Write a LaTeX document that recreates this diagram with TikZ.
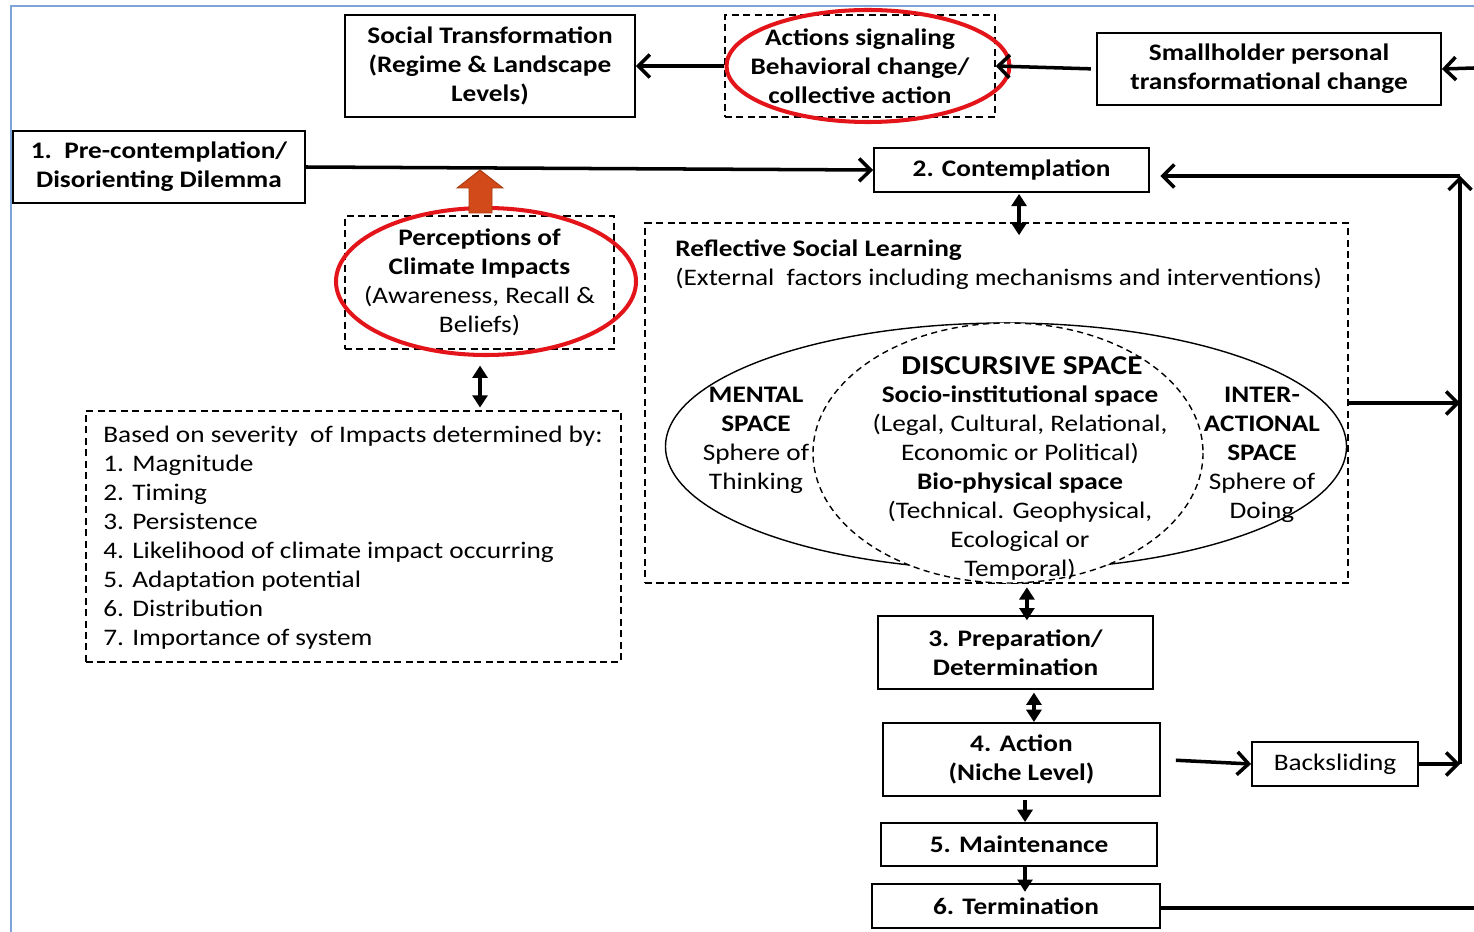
\documentclass[tikz,border=0pt]{standalone}
\usepackage{fontspec}
\setmainfont{Carlito}[FakeStretch=1.15]
\usetikzlibrary{arrows.meta,calc}
\definecolor{framecol}{HTML}{7EA3D6}
\definecolor{ringred}{HTML}{E3151B}
\definecolor{orangefill}{HTML}{D24A1A}
\definecolor{orangeedge}{HTML}{A8380F}
\newcommand\fs{\fontsize{13.5}{16.5}\selectfont}
\newcommand\fsbig{\fontsize{15.5}{18}\selectfont\bfseries}

\begin{document}
\begin{tikzpicture}[x=0.02cm,y=-0.02cm,
  every node/.style={inner sep=0pt, font=\fs, align=center},
  solidbox/.style={draw, line width=1.1pt},
  dashbox/.style={draw, line width=0.9pt, dash pattern=on 4pt off 2.5pt},
  ring/.style={draw=ringred, line width=2.3pt},
  flow/.style={line width=2pt, -{Straight Barb[length=6.5pt,width=13pt,line width=2pt]}},
  both/.style={line width=2pt, {Triangle[length=7pt,width=8.5pt]}-{Triangle[length=7pt,width=8.5pt]}},
  down/.style={line width=2pt, -{Triangle[length=7pt,width=8.5pt]}},
]
\useasboundingbox (0,0) rectangle (1474,932);

% page frame
\draw[framecol, line width=1.2pt] (1474,6) -- (11,6) -- (11,932);

% top row
\node[solidbox, minimum width=5.8cm, minimum height=2.04cm] (social) at (490,66)
  {\bfseries Social Transformation\\\bfseries (Regime \& Landscape\\\bfseries Levels)};
\node[dashbox, minimum width=5.4cm, minimum height=2.04cm] (actions) at (860,66)
  {\bfseries Actions signaling\\\bfseries Behavioral change/\\\bfseries collective action};
\draw[ring] (868,66) ellipse [x radius=141.5, y radius=56];
\node[solidbox, minimum width=6.88cm, minimum height=1.44cm] (small) at (1269,69)
  {\bfseries Smallholder personal\\\bfseries transformational change};

% stages 1 and 2
\node[solidbox, minimum width=5.84cm, minimum height=1.44cm] (pre) at (159,167)
  {\bfseries 1.\ \ Pre-contemplation/\\\bfseries Disorienting Dilemma};
\node[solidbox, minimum width=5.5cm, minimum height=0.88cm] (contemp) at (1011.5,170)
  {\bfseries 2. Contemplation};

% perceptions
\node[dashbox, minimum width=5.38cm, minimum height=2.66cm] (perc) at (479.5,282.5)
  {\bfseries Perceptions of\\\bfseries Climate Impacts\\(Awareness, Recall \&\\Beliefs)};
\draw[ring] (486,281.5) ellipse [x radius=150, y radius=73.5];

% orange block arrow
\draw[orangeedge, fill=orangefill, line width=0.5pt]
  (469,213) -- (469,188) -- (457,188) -- (480,170) -- (503,188) -- (492,188) -- (492,213) -- cycle;

% severity list
\node[dashbox, minimum width=10.7cm, minimum height=5.02cm] (list) at (353.5,536.5) {};
\node[anchor=west, align=left] (listtext) at (103,537.5)
  {Based on severity~ of Impacts determined by:\\
   1. Magnitude\\
   2. Timing\\
   3. Persistence\\
   4. Likelihood of climate impact occurring\\
   5. Adaptation potential\\
   6. Distribution\\
   7. Importance of system};

% reflective social learning
\node[dashbox, minimum width=14.06cm, minimum height=7.2cm] (reflect) at (996.5,403) {};
\node[anchor=west, align=left] (refltext) at (675,265)
  {\bfseries Reflective Social Learning\\(External~ factors including mechanisms and interventions)};
\draw[line width=0.8pt] (1006,446.5) ellipse [x radius=340.5, y radius=123.5];
\draw[line width=0.8pt, dash pattern=on 3.5pt off 2.5pt, fill=white] (1008,453) ellipse [x radius=195, y radius=130];
\node (mental) at (756,440)
  {\bfseries MENTAL\\\bfseries SPACE\\Sphere of\\Thinking};
\node (inter) at (1262,455)
  {\bfseries INTER-\\\bfseries ACTIONAL\\\bfseries SPACE\\Sphere of\\Doing};
\node[font=\fsbig] (disc) at (1022,366) {DISCURSIVE SPACE};
\node (discbody) at (1020,483)
  {\bfseries Socio-institutional space\\(Legal, Cultural, Relational,\\Economic or Political)\\
   \bfseries Bio-physical space\\(Technical. Geophysical,\\Ecological or\\Temporal)};

% stages 3 to 6
\node[solidbox, minimum width=5.5cm, minimum height=1.46cm] (prep) at (1015.5,652.5)
  {\bfseries 3. Preparation/\\\bfseries Determination};
\node[solidbox, minimum width=5.54cm, minimum height=1.46cm] (action) at (1021.5,759.5)
  {\bfseries 4. Action\\\bfseries (Niche Level)};
\node[solidbox, minimum width=3.32cm, minimum height=0.88cm] (back) at (1335,764)
  {Backsliding};
\node[solidbox, minimum width=5.52cm, minimum height=0.86cm] (maint) at (1019,844.5)
  {\bfseries 5. Maintenance};
\node[solidbox, minimum width=5.76cm, minimum height=0.88cm] (term) at (1016,906)
  {\bfseries 6. Termination};

% loose ends on the right
\coordinate (rightin) at (1474,68);
\coordinate (rightout) at (1474,908);
\coordinate (loopTop) at (1460,176);
\coordinate (loopBot) at (1460,764);

% connectors
\draw[flow] (actions.west) -- (social.east);
\draw[flow, shorten <=3pt] (small.west) -- (actions.east);
\draw[flow] (rightin) -- (small.east);
\draw[flow] (pre.east) -- (contemp.west);
\draw[flow, shorten >=6pt] (loopTop) -- (loopTop -| contemp.east);
\draw[flow] (loopBot) -- (loopTop);
\draw[flow] (back.east) -- (loopBot);
\draw[flow, shorten <=8.5pt] (action.east) -- (back.west);
\draw[flow] (reflect.east) -- (reflect.east -| loopTop);
\draw[line width=2pt] (term.east |- rightout) -- (rightout);

\draw[both, shorten <=9pt, shorten >=1.5pt] ([xshift=0.3pt]perc.south) -- ([xshift=0.3pt]perc.south |- list.north);
\draw[both, shorten <=0.5pt] ([xshift=4.3pt]contemp.south) -- ([xshift=4.3pt, yshift=-7.4pt]contemp.south |- reflect.north);
\draw[both, shorten <=2pt] ([xshift=6.5pt]prep.north |- reflect.south) -- ([xshift=6.5pt, yshift=-3pt]prep.north);
\draw[both, shorten <=1.5pt] ([xshift=10.5pt]prep.south) -- ([xshift=10.5pt]prep.south |- action.north);
\draw[down, shorten <=2pt] ([xshift=2pt]action.south) -- ([xshift=2pt]action.south |- maint.north);
\draw[down] ([xshift=3.4pt]maint.south) -- ([xshift=3.4pt, yshift=-5pt]maint.south |- term.north);
\end{tikzpicture}
\end{document}
